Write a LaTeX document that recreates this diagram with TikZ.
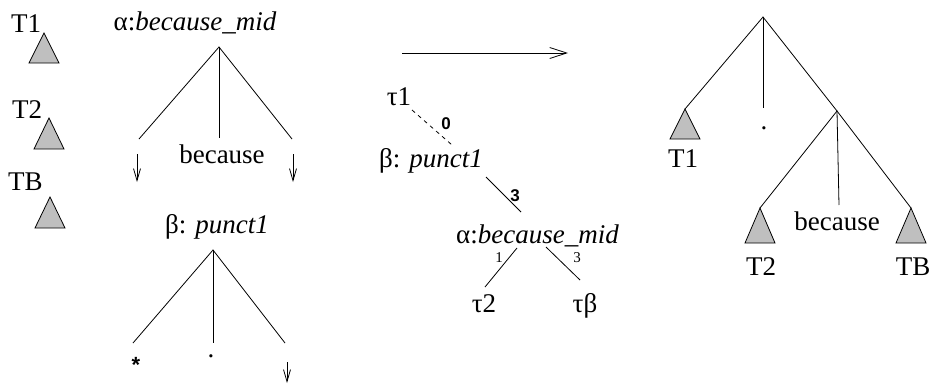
\documentclass[tikz,border=0pt]{standalone}
\usepackage{fontspec}
\setmainfont{Liberation Serif}
\setsansfont{Liberation Sans}
\usepackage{tikz}
\usetikzlibrary{arrows.meta,positioning,calc}

\tikzset{
  txt/.style={inner sep=0pt,anchor=base,font=\fontsize{27}{30}\selectfont},
  edgelbl/.style={inner sep=0pt,font=\sffamily\bfseries\fontsize{17}{17}\selectfont},
  smalllbl/.style={inner sep=0pt,font=\fontsize{15}{15}\selectfont},
  tri/.style={draw=black,fill=gray!50,line width=0.8pt,line join=miter},
  br/.style={line width=0.8pt},
  downarr/.style={line width=0.8pt,-{Straight Barb[length=12pt,width=7pt]}}
}

\begin{document}
\begin{tikzpicture}[x=1pt,y=-1pt]
  \useasboundingbox (0,0) rectangle (932,386);

  % elementary trees on the left
  \node[txt] (lT1) at (26,32) {T1};
  \node[txt] (lT2) at (27,118) {T2};
  \node[txt] (lTB) at (25.5,190) {TB};
  \coordinate (lT1a) at (44,33);
  \coordinate (lT2a) at (49,118);
  \coordinate (lTBa) at (50,197);
  \draw[tri] (lT1a) -- ++(-15,30) -- ++(30,0) -- cycle;
  \draw[tri] (lT2a) -- ++(-15,31) -- ++(30,0) -- cycle;
  \draw[tri] (lTBa) -- ++(-15,31) -- ++(30,0) -- cycle;

  % alpha: because_mid
  \node[txt] (alab) at (195,30) {α:\textit{because\_mid}};
  \coordinate (aroot) at (219,47);
  \coordinate (al) at (139,139);
  \coordinate (am) at (219,138);
  \coordinate (ar) at (292,139);
  \draw[br] (al) -- (aroot) -- (ar);
  \draw[br] (aroot) -- (am);
  \node[txt] (abec) at (222,163) {because};
  \coordinate (alt) at (137,154);
  \coordinate (alb) at (137,182);
  \coordinate (art) at (293,154);
  \coordinate (arb) at (293,182);
  \draw[downarr] (alt) -- (alb);
  \draw[downarr] (art) -- (arb);

  % beta: punct1
  \node[txt] (blab) at (217,233) {β: \textit{punct1}};
  \coordinate (broot) at (213,250);
  \coordinate (bl) at (133,343);
  \coordinate (bm) at (213,343);
  \coordinate (brr) at (285,343);
  \draw[br] (bl) -- (broot) -- (brr);
  \draw[br] (broot) -- (bm);
  \node[inner sep=0pt,font=\sffamily\bfseries\fontsize{22}{22}\selectfont] (bstar) at (136,365) {*};
  \node[txt] (bdot) at (211,357) {.};
  \coordinate (bat) at (287,362);
  \coordinate (bab) at (287,383);
  \draw[downarr] (bat) -- (bab);

  % derivation
  \coordinate (bigl) at (402,53);
  \coordinate (bigr) at (568,53);
  \draw[line width=0.8pt,-{Straight Barb[length=17pt,width=11pt]}] (bigl) -- (bigr);
  \node[txt] (tau1) at (399,105) {τ1};
  \node[txt] (dbeta) at (431,167) {β: \textit{punct1}};
  \node[txt] (dalpha) at (537.5,243) {α:\textit{because\_mid}};
  \node[txt] (tau2) at (484,312) {τ2};
  \node[txt] (taub) at (585,312) {τβ};
  \coordinate (d0a) at (412,110);
  \coordinate (d0b) at (452,145);
  \coordinate (d3a) at (486,177);
  \coordinate (d3b) at (521,212);
  \coordinate (d1a) at (517,248);
  \coordinate (d1b) at (485,287);
  \coordinate (d4a) at (546,247);
  \coordinate (d4b) at (580,280);
  \draw[br,dash pattern=on 4pt off 4pt] (d0a) -- (d0b);
  \draw[br] (d3a) -- (d3b);
  \draw[br] (d1a) -- (d1b);
  \draw[br] (d4a) -- (d4b);
  \node[edgelbl] (l0) at (446,124) {0};
  \node[edgelbl] (l3) at (515,196) {3};
  \node[smalllbl] (l1) at (499,258) {1};
  \node[smalllbl] (l4) at (577,258) {3};

  % derived tree
  \coordinate (root) at (763,17);
  \coordinate (rT1a) at (685,109);
  \coordinate (rmid) at (763,108);
  \coordinate (sub) at (837,111);
  \coordinate (rT2a) at (760,208);
  \coordinate (smid) at (839,205);
  \coordinate (rTBa) at (911,208);
  \draw[br] (rT1a) -- (root) -- (sub);
  \draw[br] (root) -- (rmid);
  \draw[br] (rT2a) -- (sub) -- (rTBa);
  \draw[br] (sub) -- (smid);
  \draw[tri] (rT1a) -- ++(-15,30) -- ++(30,0) -- cycle;
  \draw[tri] (rT2a) -- ++(-15,35) -- ++(30,0) -- cycle;
  \draw[tri] (rTBa) -- ++(-15,35) -- ++(30,0) -- cycle;
  \node[txt] (rdot) at (764,129) {.};
  \node[txt] (rT1) at (683,167) {T1};
  \node[txt] (rbec) at (837,230) {because};
  \node[txt] (rT2) at (761,275) {T2};
  \node[txt] (rTB) at (913,275) {TB};
\end{tikzpicture}
\end{document}
